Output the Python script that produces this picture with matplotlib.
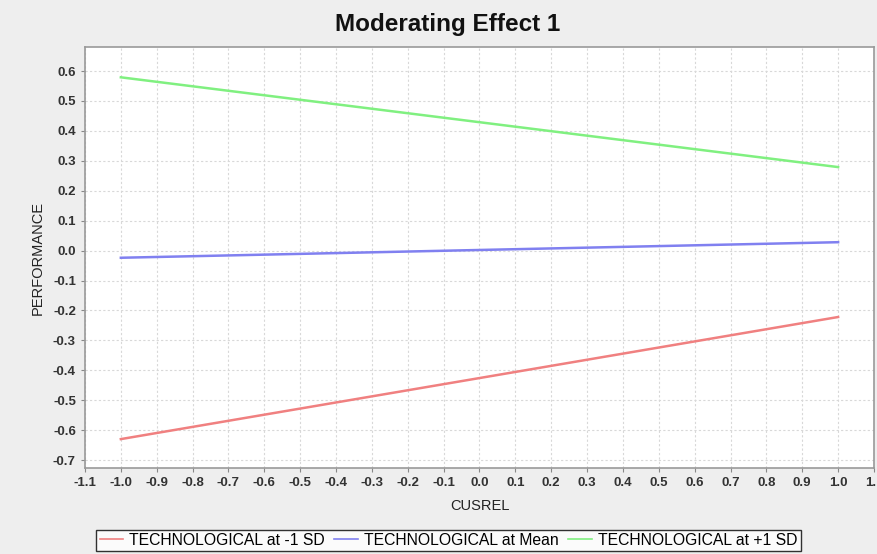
import numpy as np
import matplotlib
matplotlib.use("Agg")
from matplotlib import pyplot as plt

# Data
x_vals = [-1.0, 1.0]
low_sd = [-0.63, -0.222]
mean_vals = [-0.024, 0.028]
high_sd = [0.579, 0.279]
series_names = ["TECHNOLOGICAL at -1 SD", "TECHNOLOGICAL at Mean", "TECHNOLOGICAL at +1 SD"]
series_colors = ["#f08080", "#8080f0", "#80f080"]

x_ticks = np.round(np.arange(-1.1, 1.11, 0.1), 1)
y_ticks = np.round(np.arange(-0.7, 0.61, 0.1), 1)

plt.rcParams['font.family'] = ['Liberation Sans', 'DejaVu Sans']

fig = plt.figure(figsize=(8.78, 5.54), dpi=100)
fig.patch.set_facecolor("#eeeeee")
ax = fig.add_axes([0.0968, 0.155, 0.8986, 0.76])
ax.set_facecolor("white")

for vals, name, col in zip([low_sd, mean_vals, high_sd], series_names, series_colors):
    ax.plot(x_vals, vals, color=col, lw=1.8, label=name)

ax.set_xlim(-1.1, 1.1)
ax.set_ylim(-0.727, 0.68)
ax.set_xticks(x_ticks)
ax.set_xticklabels(["{:.1f}".format(v) if v != 0 else "0.0" for v in x_ticks])
ax.set_yticks(y_ticks)
ax.set_yticklabels(["{:.1f}".format(v) if v != 0 else "0.0" for v in y_ticks])
ax.tick_params(labelsize=9.5, colors="#888888", length=3, width=0.8)
for lbl in ax.get_xticklabels() + ax.get_yticklabels():
    lbl.set_color("#333333")
    lbl.set_fontweight("bold")

ax.grid(True, color="#d8d8d8", linestyle=(0, (2, 2)), linewidth=0.8)
for s in ax.spines.values():
    s.set_color("#999999")
    s.set_linewidth(1.2)

ax.set_xlabel("CUSREL", fontsize=10.5, color="#222222", labelpad=7)
ax.set_ylabel("PERFORMANCE", fontsize=10.5, color="#222222", labelpad=6)
fig.text(0.51, 0.955, "Moderating Effect 1", ha="center", va="center",
         fontsize=17.5, fontweight="bold", color="#111111")

leg = fig.legend(loc="upper center", bbox_to_anchor=(0.511, 0.044), ncol=3,
                 fontsize=11.3, frameon=True, fancybox=False, handlelength=1.5,
                 handletextpad=0.4, columnspacing=0.6, borderpad=0.2,
                 borderaxespad=0.0, edgecolor="black", facecolor="white")
leg.get_frame().set_linewidth(1.0)
for line in leg.get_lines():
    line.set_linewidth(1.2)

fig.savefig("out.png", dpi=100, facecolor=fig.get_facecolor())
